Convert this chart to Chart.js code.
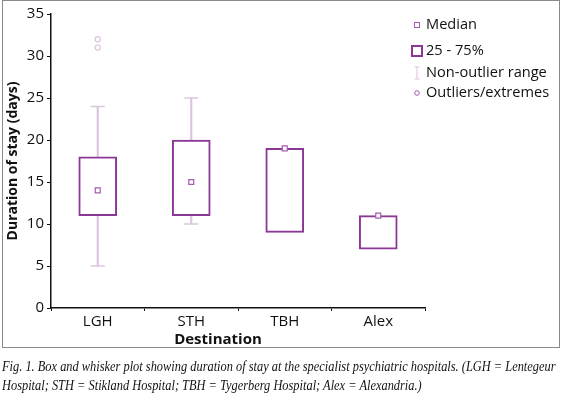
<!DOCTYPE html>
<html>
<head>
<meta charset="utf-8">
<script src="https://cdn.jsdelivr.net/npm/chart.js@4/dist/chart.umd.min.js"></script>
<style>
  body { margin: 0; background: #fff; }
  #frame { position: absolute; left: 2px; top: 0; width: 556px; height: 346px; border: 1px solid #8a8a8a; box-sizing: content-box; }
  #wrap { position: absolute; left: 0; top: 0; width: 560px; height: 347px; }
  #xtitle { position: absolute; left: 0; width: 436px; top: 328px; text-align: center; font: bold 15px "Open Sans", sans-serif; color: #111; }
  #caption { position: absolute; left: 2px; top: 357px; font: italic 14px "Liberation Serif", serif; line-height: 19px; color: #111; white-space: nowrap; transform: scaleX(0.885); transform-origin: 0 0; }
</style>
</head>
<body>
<div id="frame"></div>
<div id="wrap"><canvas id="chart"></canvas></div>
<div id="xtitle">Destination</div>
<div id="caption">Fig. 1. Box and whisker plot showing duration of stay at the specialist psychiatric hospitals. (LGH = Lentegeur<br>Hospital; STH = Stikland Hospital; TBH = Tygerberg Hospital; Alex = Alexandria.)</div>
<script>

var destinations = ['LGH', 'STH', 'TBH', 'Alex'];
var q1 = [11, 11, 9, 7];
var q3 = [18, 20, 19, 11];
var medians = [14, 15, 19, 11];
var whiskerLow = [5, 10, null, null];
var whiskerHigh = [24, 25, null, null];
var outliers = [[31, 32], [36], [], []];
var yTicks = [0, 5, 10, 15, 20, 25, 30, 35];

var boxColor = '#8c3696';
var medianColor = '#a45cad';
var whiskerColor = '#dcc3df';
var outlierColor = '#dfc3e2';

Chart.defaults.font.family = '"Open Sans", sans-serif';
Chart.defaults.color = '#111';

function pointsFrom(values) {
    var pts = [];
    for (var i = 0; i < destinations.length; i++) {
        if (values[i] !== null) {
            pts.push({x: destinations[i], y: values[i]});
        }
    }
    return pts;
}

var boxData = destinations.map(function(d, i) { return [q1[i], q3[i]]; });
var whiskerData = destinations.map(function(d, i) {
    return whiskerLow[i] === null ? null : [whiskerLow[i], whiskerHigh[i]];
});
var capData = pointsFrom(whiskerLow).concat(pointsFrom(whiskerHigh));
var outlierData = [];
outliers.forEach(function(list, i) {
    list.forEach(function(v) { outlierData.push({x: destinations[i], y: v}); });
});

// legend drawn inside the plot, top right
var boxLegend = {
    id: 'boxLegend',
    afterDraw: function(chart) {
        var ctx = chart.ctx;
        var x = 417;
        var tx = 426;
        var rows = [25, 51, 73, 93];
        ctx.save();
        ctx.font = '14.6px "Open Sans", sans-serif';
        ctx.fillStyle = '#111';
        ctx.textBaseline = 'middle';
        ctx.fillText('Median', tx, rows[0]);
        ctx.fillText('25 - 75%', tx, rows[1]);
        ctx.fillText('Non-outlier range', tx, rows[2]);
        ctx.fillText('Outliers/extremes', tx, rows[3]);

        ctx.strokeStyle = medianColor;
        ctx.lineWidth = 1;
        ctx.strokeRect(x - 2.5, rows[0] - 2.5, 5, 5);

        ctx.strokeStyle = boxColor;
        ctx.lineWidth = 2;
        ctx.strokeRect(x - 5, rows[1] - 5, 10, 10);

        ctx.strokeStyle = whiskerColor;
        ctx.lineWidth = 1;
        ctx.beginPath();
        ctx.moveTo(x, rows[2] - 6); ctx.lineTo(x, rows[2] + 6);
        ctx.moveTo(x - 2.5, rows[2] - 6); ctx.lineTo(x + 2.5, rows[2] - 6);
        ctx.moveTo(x - 2.5, rows[2] + 6); ctx.lineTo(x + 2.5, rows[2] + 6);
        ctx.stroke();

        ctx.strokeStyle = medianColor;
        ctx.beginPath();
        ctx.arc(x, rows[3], 2.3, 0, Math.PI * 2);
        ctx.stroke();
        ctx.restore();
    }
};

var chart = new Chart(document.getElementById('chart'), {
    data: {
        labels: destinations,
        datasets: [
            {
                type: 'bar',
                label: '25 - 75%',
                data: boxData,
                backgroundColor: '#ffffff',
                borderColor: boxColor,
                borderWidth: 2,
                borderSkipped: false,
                barThickness: 38,
                grouped: false,
                order: 2
            },
            {
                type: 'bar',
                label: 'Non-outlier range',
                data: whiskerData,
                backgroundColor: whiskerColor,
                borderWidth: 0,
                barThickness: 1.5,
                grouped: false,
                order: 3
            },
            {
                type: 'line',
                label: 'caps',
                data: capData,
                showLine: false,
                pointStyle: 'line',
                pointRadius: 7,
                pointBorderColor: whiskerColor,
                pointBorderWidth: 1.5,
                order: 3
            },
            {
                type: 'line',
                label: 'Median',
                data: pointsFrom(medians),
                showLine: false,
                pointStyle: 'rect',
                pointRadius: 3.5,
                pointBackgroundColor: '#ffffff',
                pointBorderColor: medianColor,
                pointBorderWidth: 1.2,
                order: 1
            },
            {
                type: 'line',
                label: 'Outliers/extremes',
                data: outlierData,
                showLine: false,
                pointStyle: 'circle',
                pointRadius: 2.6,
                pointBackgroundColor: '#ffffff',
                pointBorderColor: outlierColor,
                pointBorderWidth: 1.2,
                clip: false,
                order: 1
            }
        ]
    },
    options: {
        responsive: true,
        maintainAspectRatio: false,
        animation: false,
        layout: { padding: { top: 14, right: 135, bottom: 0, left: 0 } },
        plugins: {
            legend: { display: false },
            tooltip: { enabled: false }
        },
        scales: {
            x: {
                type: 'category',
                offset: true,
                grid: { drawOnChartArea: false, drawTicks: true, tickLength: 3, color: '#111' },
                border: { color: '#111', width: 1.5 },
                ticks: { font: { size: 15 }, padding: 2, color: '#111' },
                afterFit: function(scale) { scale.height = 39; }
            },
            y: {
                min: 0,
                max: 35,
                afterBuildTicks: function(scale) {
                    scale.ticks = yTicks.map(function(v) { return {value: v}; });
                },
                grid: { drawOnChartArea: false, drawTicks: true, tickLength: 4, color: '#111' },
                border: { color: '#111', width: 1.5 },
                ticks: { font: { size: 15 }, padding: 3, color: '#111' },
                title: {
                    display: true,
                    text: 'Duration of stay (days)',
                    font: { size: 14, weight: 'bold' },
                    padding: { top: 5, bottom: 6 }
                },
                afterFit: function(scale) { scale.width = 51; }
            }
        }
    },
    plugins: [boxLegend]
});
</script>
</body>
</html>
